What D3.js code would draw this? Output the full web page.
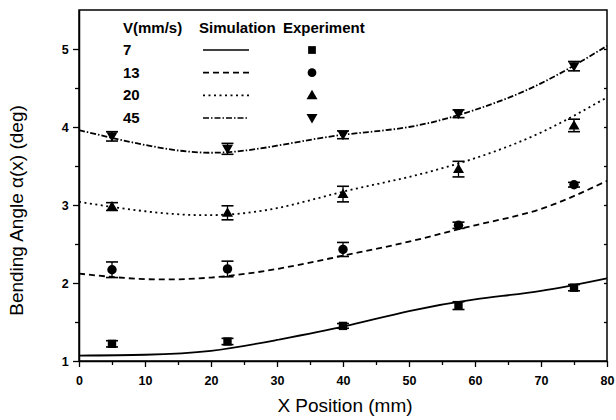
<!DOCTYPE html>
<html>
<head>
<meta charset="utf-8">
<script src="https://cdn.jsdelivr.net/npm/d3@7"></script>
<style>
  html, body { margin: 0; padding: 0; background: #fff; }
  svg { display: block; }
  text { font-family: "Liberation Sans", Arial, sans-serif; fill: #000; }
</style>
</head>
<body>
<svg id="chart" width="616" height="420"></svg>
<script>
// ---- Data ----
const speeds = ["7", "13", "20", "45"];
const simX = [0, 10, 20, 30, 40, 50, 60, 70, 80];
const sim7  = [1.07, 1.08, 1.13, 1.27, 1.44, 1.64, 1.79, 1.90, 2.06];
const sim13 = [2.12, 2.05, 2.07, 2.18, 2.35, 2.53, 2.74, 2.95, 3.31];
const sim20 = [3.04, 2.92, 2.87, 2.96, 3.17, 3.36, 3.60, 3.93, 4.38];
const sim45 = [3.96, 3.77, 3.67, 3.76, 3.90, 4.00, 4.22, 4.56, 5.04];

const expX = [5, 22.5, 40, 57.5, 75];
const exp7  = [1.22, 1.25, 1.45, 1.71, 1.94];
const exp13 = [2.17, 2.18, 2.43, 2.74, 3.26];
const exp20 = [2.98, 2.90, 3.14, 3.46, 4.02];
const exp45 = [3.88, 3.72, 3.90, 4.17, 4.78];
const err7  = [0.04, 0.04, 0.03, 0.05, 0.04];
const err13 = [0.10, 0.10, 0.09, 0.04, 0.03];
const err20 = [0.05, 0.09, 0.10, 0.10, 0.08];
const err45 = [0.06, 0.07, 0.05, 0.05, 0.06];

const xTicks = [0, 10, 20, 30, 40, 50, 60, 70, 80];
const yTicks = [1, 2, 3, 4, 5];
const xLabel = "X Position (mm)";
const yLabel = "Bending Angle \u03b1(x) (deg)";
const legendHeader = ["V(mm/s)", "Simulation", "Experiment"];

const series = [
  { name: speeds[0], sim: sim7,  exp: exp7,  err: err7,  dash: null,        sym: d3.symbolSquare },
  { name: speeds[1], sim: sim13, exp: exp13, err: err13, dash: "6,4",       sym: d3.symbolCircle },
  { name: speeds[2], sim: sim20, exp: exp20, err: err20, dash: "2,3.5",     sym: "up" },
  { name: speeds[3], sim: sim45, exp: exp45, err: err45, dash: "6,2,1.5,2", sym: "down" }
];

// ---- Layout ----
const svg = d3.select("#chart");
const L = 79, R = 607, T = 10, B = 361;
const x = d3.scaleLinear().domain([0, 80]).range([L, R]);
const y = d3.scaleLinear().domain([1, 5.5]).range([B, T]);

// frame
svg.append("rect").attr("x", L).attr("y", T).attr("width", R - L).attr("height", B - T)
  .attr("fill", "none").attr("stroke", "#000").attr("stroke-width", 1.5);

// x axis
const xAxis = svg.append("g").attr("transform", `translate(0,${B})`)
  .call(d3.axisBottom(x).tickValues(xTicks).tickFormat(d3.format("d")).tickSize(6).tickSizeOuter(0));
svg.append("g").attr("transform", `translate(0,${B})`)
  .call(d3.axisBottom(x).tickValues(d3.range(5, 80, 10)).tickFormat("").tickSize(4).tickSizeOuter(0))
  .select(".domain").remove();
// y axis
const yAxis = svg.append("g").attr("transform", `translate(${L},0)`)
  .call(d3.axisLeft(y).tickValues(yTicks).tickFormat(d3.format("d")).tickSize(6).tickSizeOuter(0));
svg.append("g").attr("transform", `translate(${L},0)`)
  .call(d3.axisLeft(y).tickValues([1.5, 2.5, 3.5, 4.5]).tickFormat("").tickSize(4).tickSizeOuter(0))
  .select(".domain").remove();
// right axis inward ticks
svg.append("g").attr("transform", `translate(${R},0)`)
  .call(d3.axisLeft(y).tickValues([1.5, 2, 2.5, 3, 3.5, 4, 4.5, 5]).tickFormat("").tickSize(3).tickSizeOuter(0))
  .select(".domain").remove();

svg.selectAll(".tick line").attr("stroke", "#000").attr("stroke-width", 1.3);
svg.selectAll(".domain").attr("stroke", "#000").attr("stroke-width", 1.5);
svg.selectAll(".tick text").attr("font-size", 12.5).attr("font-weight", "bold")
  .attr("font-family", "Liberation Sans, Arial, sans-serif");
xAxis.selectAll(".tick text").attr("dy", "1.2em");
yAxis.selectAll(".tick text").attr("dx", "-0.1em");

// axis titles
svg.append("text").attr("x", (L + R) / 2 + 2).attr("y", 412).attr("text-anchor", "middle")
  .attr("font-size", 19).text(xLabel);
svg.append("text").attr("transform", `translate(23,${(T + B) / 2 + 25}) rotate(-90)`)
  .attr("text-anchor", "middle").attr("font-size", 19).text(yLabel);

// simulation curves
const line = d3.line().x(d => x(d[0])).y(d => y(d[1])).curve(d3.curveNatural);
const plot = svg.append("g");
series.forEach(s => {
  plot.append("path").datum(simX.map((v, i) => [v, s.sim[i]]))
    .attr("d", line).attr("fill", "none").attr("stroke", "#000").attr("stroke-width", 1.8)
    .attr("stroke-dasharray", s.dash);
});

function symPath(sym, size) {
  if (sym === "up") return "M0,-5.5L5.5,4L-5.5,4Z";
  if (sym === "down") return "M0,5.5L5.5,-4L-5.5,-4Z";
  return d3.symbol().type(sym).size(size)();
}

// experiment points with error bars
series.forEach(s => {
  const g = plot.append("g");
  expX.forEach((xv, i) => {
    const cx = x(xv), cy = y(s.exp[i]);
    const y0 = y(s.exp[i] - s.err[i]), y1 = y(s.exp[i] + s.err[i]);
    g.append("line").attr("x1", cx).attr("x2", cx).attr("y1", y0).attr("y2", y1).attr("stroke", "#000").attr("stroke-width", 1.3);
    [y0, y1].forEach(yy => g.append("line").attr("x1", cx - 6).attr("x2", cx + 6).attr("y1", yy).attr("y2", yy)
      .attr("stroke", "#000").attr("stroke-width", 1.6));
    g.append("path").attr("d", symPath(s.sym, 70)).attr("transform", `translate(${cx},${cy})`).attr("fill", "#000");
  });
});

// legend
const lg = svg.append("g").attr("font-size", 15).attr("font-weight", "bold");
lg.append("text").attr("x", 123).attr("y", 33).text(legendHeader[0]);
lg.append("text").attr("x", 199).attr("y", 33).text(legendHeader[1]);
lg.append("text").attr("x", 283).attr("y", 33).text(legendHeader[2]);
const rowY = d3.scalePoint().domain(speeds).range([50, 118]);
series.forEach(s => {
  const ry = rowY(s.name);
  lg.append("text").attr("x", 123).attr("y", ry + 5).text(s.name);
  lg.append("line").attr("x1", 203).attr("x2", 249).attr("y1", ry).attr("y2", ry)
    .attr("stroke", "#000").attr("stroke-width", 1.6).attr("stroke-dasharray", s.dash);
  lg.append("path").attr("d", symPath(s.sym, 60)).attr("transform", `translate(312,${ry})`).attr("fill", "#000");
});
</script>
</body>
</html>
